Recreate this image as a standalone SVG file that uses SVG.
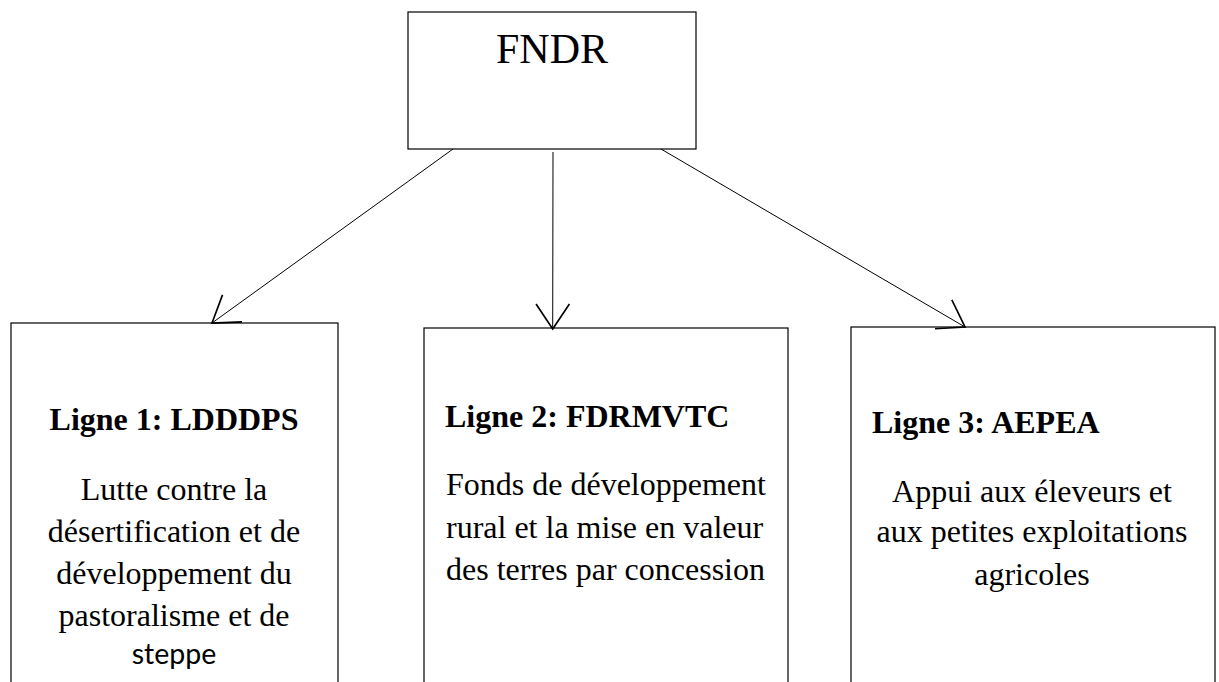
<svg xmlns="http://www.w3.org/2000/svg" width="1219" height="682" viewBox="0 0 1219 682">
<style>
.box{fill:#fff;stroke:#000;stroke-width:1.2}
.con{stroke:#000;stroke-width:1;fill:none}
.t{font-family:"Liberation Serif","Times New Roman",serif;font-size:32px;fill:#000}
.h{font-weight:bold}
.c{text-anchor:middle}
.s{font-family:Lato,"Liberation Sans",sans-serif;font-size:28.5px;fill:#000}
</style>
<defs>
<marker id="arr" markerUnits="userSpaceOnUse" markerWidth="40" markerHeight="40" viewBox="-20 -12 22 24" refX="0" refY="0" orient="auto">
<path d="M-15,-10 L0,0 L-15,10" fill="none" stroke="#000" stroke-width="1"/>
</marker>
</defs>
<rect width="1219" height="682" fill="#fff"/>
<g id="node-fndr">
<rect class="box" x="408" y="12" width="288" height="137"/>
<text class="t c" x="552" y="63" style="font-size:42px">FNDR</text>
</g>
<g id="node-ligne1">
<rect class="box" x="11" y="323" width="327" height="380"/>
<text class="t h c" x="174" y="430">Ligne 1: LDDDPS</text>
<text class="t c" x="174" y="500">Lutte contre la</text>
<text class="t c" x="174" y="542">désertification et de</text>
<text class="t c" x="174" y="584">développement du</text>
<text class="t c" x="174" y="626">pastoralisme et de</text>
<text class="s c" x="174" y="664">steppe</text>
</g>
<g id="node-ligne2">
<rect class="box" x="424" y="328" width="364" height="380"/>
<text class="t h" x="445" y="427">Ligne 2: FDRMVTC</text>
<text class="t" x="446" y="495">Fonds de développement</text>
<text class="t" x="446" y="538">rural et la mise en valeur</text>
<text class="t" x="446" y="580">des terres par concession</text>
</g>
<g id="node-ligne3">
<rect class="box" x="851" y="327" width="364" height="380"/>
<text class="t h" x="872" y="433">Ligne 3: AEPEA</text>
<text class="t c" x="1032" y="502">Appui aux éleveurs et</text>
<text class="t c" x="1032" y="542">aux petites exploitations</text>
<text class="t c" x="1032" y="585">agricoles</text>
</g>
<g id="connectors">
<line class="con" x1="453" y1="149" x2="212" y2="323" marker-end="url(#arr)"/>
<line class="con" x1="553" y1="152" x2="552.7" y2="329" marker-end="url(#arr)"/>
<line class="con" x1="661" y1="149" x2="965" y2="327" marker-end="url(#arr)"/>
</g>
</svg>
